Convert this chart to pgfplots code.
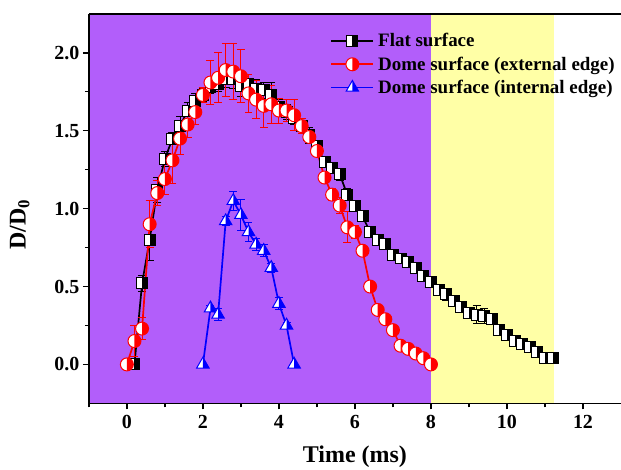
\documentclass[border=0pt]{standalone}
\usepackage{fontspec}
\setmainfont{Liberation Serif}
\usepackage{pgfplots}
\pgfplotsset{compat=1.18}
\usetikzlibrary{calc}

\definecolor{bgpurple}{RGB}{178,94,250}
\definecolor{bgyellow}{RGB}{255,255,166}

% half-filled marks: left half white, right half in the fill colour
\pgfdeclareplotmark{halfsqR}{%
  \begin{pgfscope}\pgfsetfillcolor{white}%
  \pgfpathrectanglecorners{\pgfqpoint{-\pgfplotmarksize}{-\pgfplotmarksize}}{\pgfqpoint{\pgfplotmarksize}{\pgfplotmarksize}}%
  \pgfusepathqfill\end{pgfscope}%
  \pgfpathrectanglecorners{\pgfqpoint{0pt}{-\pgfplotmarksize}}{\pgfqpoint{\pgfplotmarksize}{\pgfplotmarksize}}%
  \pgfusepathqfill
  \pgfpathrectanglecorners{\pgfqpoint{-\pgfplotmarksize}{-\pgfplotmarksize}}{\pgfqpoint{\pgfplotmarksize}{\pgfplotmarksize}}%
  \pgfusepathqstroke}
\pgfdeclareplotmark{halfcircR}{%
  \begin{pgfscope}\pgfsetfillcolor{white}%
  \pgfpathcircle{\pgfpointorigin}{\pgfplotmarksize}\pgfusepathqfill\end{pgfscope}%
  \pgfpathmoveto{\pgfqpoint{0pt}{\pgfplotmarksize}}%
  \pgfpatharc{90}{-90}{\pgfplotmarksize}\pgfpathclose
  \pgfusepathqfill
  \pgfpathcircle{\pgfpointorigin}{\pgfplotmarksize}\pgfusepathqstroke}
\pgfdeclareplotmark{halftriR}{%
  \begin{pgfscope}\pgfsetfillcolor{white}%
  \pgfpathmoveto{\pgfqpointpolar{90}{1.2\pgfplotmarksize}}%
  \pgfpathlineto{\pgfqpointpolar{-30}{1.2\pgfplotmarksize}}%
  \pgfpathlineto{\pgfqpointpolar{-150}{1.2\pgfplotmarksize}}%
  \pgfpathclose\pgfusepathqfill\end{pgfscope}%
  \pgfpathmoveto{\pgfqpointpolar{90}{1.2\pgfplotmarksize}}%
  \pgfpathlineto{\pgfqpointpolar{-30}{1.2\pgfplotmarksize}}%
  \pgfpathlineto{\pgfqpoint{0pt}{-0.6\pgfplotmarksize}}%
  \pgfpathclose\pgfusepathqfill
  \pgfpathmoveto{\pgfqpointpolar{90}{1.2\pgfplotmarksize}}%
  \pgfpathlineto{\pgfqpointpolar{-30}{1.2\pgfplotmarksize}}%
  \pgfpathlineto{\pgfqpointpolar{-150}{1.2\pgfplotmarksize}}%
  \pgfpathclose\pgfusepathqstroke}

\begin{document}
\begin{tikzpicture}
\begin{axis}[name=ax, scale only axis, width=533pt, height=390pt,
    xmin=-1, xmax=13, ymin=-0.25, ymax=2.25,
    axis x line*=box, axis y line*=left,
    axis line style={line width=1.6pt},
    xtick={0,2,...,12}, minor xtick={-1,1,3,5,7,9,11},
    ytick={0,0.5,1,1.5,2}, minor ytick={0.25,0.75,1.25,1.75},
    tick align=outside, tick pos=left,
    major tick length=6pt, minor tick length=4pt,
    every tick/.style={line width=1.3pt, black},
    /pgf/number format/assume math mode=true,
    ticklabel style={font=\fontsize{20}{22}\selectfont\bfseries},
    xticklabel style={yshift=-2pt},
    yticklabel style={/pgf/number format/fixed, /pgf/number format/fixed zerofill, /pgf/number format/precision=1},
    xlabel={Time (ms)}, ylabel={D/D\textsubscript{0}},
    label style={font=\fontsize{24}{26}\selectfont\bfseries},
    xlabel style={yshift=-11pt},
    ylabel style={yshift=18pt, xshift=-16pt},
    axis on top,
    legend cell align=left,
    legend style={at={(0.452,0.958)}, anchor=north west, draw=none, fill=none,
      font=\fontsize{19}{21}\selectfont\bfseries, row sep=4.5pt, inner sep=1pt,
      nodes={inner xsep=4pt}},
    legend image code/.code={\draw[mark repeat=2, mark phase=2, #1] plot coordinates {(0pt,0pt) (21pt,0pt) (42pt,0pt)};},
    error bars/y dir=both, error bars/y explicit,
    error bars/error bar style={line width=0.9pt},
    error bars/error mark options={rotate=90, mark size=4pt, line width=0.9pt}]

\addplot[draw=none, fill=bgpurple, forget plot] coordinates {(-1,-0.25) (8,-0.25) (8,2.25) (-1,2.25)} -- cycle;
\addplot[draw=none, fill=bgyellow, forget plot] coordinates {(8,-0.25) (11.25,-0.25) (11.25,2.25) (8,2.25)} -- cycle;

% Flat surface
\addplot[black, line width=1.7pt, mark=halfsqR, mark size=5.5pt, mark options={line width=1pt, fill=black}] coordinates {
(0.2,0) +- (0,0)
(0.4,0.52) +- (0,0.05)
(0.6,0.80) +- (0,0.13)
(0.8,1.12) +- (0,0.08)
(1.0,1.32) +- (0,0.05)
(1.2,1.45) +- (0,0.04)
(1.4,1.53) +- (0,0.06)
(1.6,1.63) +- (0,0.05)
(1.8,1.69) +- (0,0.05)
(2.0,1.73) +- (0,0.04)
(2.2,1.78) +- (0,0.04)
(2.4,1.80) +- (0,0.05)
(2.6,1.83) +- (0,0.05)
(2.8,1.83) +- (0,0.06)
(3.0,1.79) +- (0,0.07)
(3.2,1.80) +- (0,0.06)
(3.4,1.77) +- (0,0.06)
(3.6,1.76) +- (0,0.05)
(3.8,1.73) +- (0,0.08)
(4.0,1.65) +- (0,0.05)
(4.2,1.62) +- (0,0.05)
(4.4,1.58) +- (0,0.04)
(4.6,1.53) +- (0,0.05)
(4.8,1.47) +- (0,0.05)
(5.0,1.40) +- (0,0.03)
(5.2,1.30) +- (0,0.03)
(5.4,1.26) +- (0,0.03)
(5.6,1.22) +- (0,0.04)
(5.8,1.09) +- (0,0.04)
(6.0,1.02) +- (0,0.02)
(6.2,0.95) +- (0,0.02)
(6.4,0.85) +- (0,0.02)
(6.6,0.80) +- (0,0.02)
(6.8,0.77) +- (0,0.02)
(7.0,0.70) +- (0,0.02)
(7.2,0.68) +- (0,0.02)
(7.4,0.655) +- (0,0.02)
(7.6,0.62) +- (0,0.02)
(7.8,0.57) +- (0,0.02)
(8.0,0.53) +- (0,0.02)
(8.2,0.48) +- (0,0.03)
(8.4,0.45) +- (0,0.04)
(8.6,0.41) +- (0,0.03)
(8.8,0.37) +- (0,0.03)
(9.0,0.33) +- (0,0.03)
(9.2,0.32) +- (0,0.06)
(9.4,0.31) +- (0,0.05)
(9.6,0.29) +- (0,0.02)
(9.8,0.22) +- (0,0.02)
(10.0,0.19) +- (0,0.02)
(10.2,0.15) +- (0,0.02)
(10.4,0.13) +- (0,0.02)
(10.6,0.11) +- (0,0.02)
(10.8,0.08) +- (0,0.02)
(11.0,0.04) +- (0,0.02)
(11.2,0.04) +- (0,0.02)
};
\addlegendentry{Flat surface}

% Dome surface (external edge)
\addplot[red, line width=1.7pt, mark=halfcircR, mark size=6.5pt, mark options={line width=1pt, fill=red}] coordinates {
(0.0,0) +- (0,0)
(0.2,0.15) +- (0,0.10)
(0.4,0.23) +- (0,0.07)
(0.6,0.90) +- (0,0.15)
(0.8,1.10) +- (0,0.08)
(1.0,1.19) +- (0,0.10)
(1.2,1.31) +- (0,0.15)
(1.4,1.45) +- (0,0.10)
(1.6,1.54) +- (0,0.08)
(1.8,1.62) +- (0,0.08)
(2.0,1.73) +- (0,0.05)
(2.2,1.81) +- (0,0.14)
(2.4,1.84) +- (0,0.16)
(2.6,1.89) +- (0,0.17)
(2.8,1.88) +- (0,0.18)
(3.0,1.85) +- (0,0.17)
(3.2,1.74) +- (0,0.12)
(3.4,1.70) +- (0,0.12)
(3.6,1.66) +- (0,0.14)
(3.8,1.67) +- (0,0.12)
(4.0,1.63) +- (0,0.08)
(4.2,1.63) +- (0,0.07)
(4.4,1.60) +- (0,0.10)
(4.6,1.53) +- (0,0.05)
(4.8,1.46) +- (0,0.03)
(5.0,1.37) +- (0,0.03)
(5.2,1.20) +- (0,0.03)
(5.4,1.09) +- (0,0.04)
(5.6,1.02) +- (0,0.05)
(5.8,0.88) +- (0,0.10)
(6.0,0.85) +- (0,0.04)
(6.2,0.73) +- (0,0)
(6.4,0.50) +- (0,0)
(6.6,0.35) +- (0,0)
(6.8,0.29) +- (0,0)
(7.0,0.22) +- (0,0)
(7.2,0.12) +- (0,0)
(7.4,0.10) +- (0,0)
(7.6,0.07) +- (0,0)
(7.8,0.04) +- (0,0)
(8.0,0.00) +- (0,0)
};
\addlegendentry{Dome surface (external edge)}

% Dome surface (internal edge)
\addplot[blue, line width=1.7pt, mark=halftriR, mark size=6pt, mark options={line width=1pt, fill=blue}] coordinates {
(2.0,0) +- (0,0)
(2.2,0.36) +- (0,0.02)
(2.4,0.32) +- (0,0.04)
(2.6,0.92) +- (0,0.03)
(2.8,1.05) +- (0,0.06)
(3.0,0.96) +- (0,0.10)
(3.2,0.85) +- (0,0.06)
(3.4,0.77) +- (0,0.04)
(3.6,0.73) +- (0,0.04)
(3.8,0.62) +- (0,0.03)
(4.0,0.39) +- (0,0.04)
(4.2,0.25) +- (0,0.02)
(4.4,0) +- (0,0)
};
\addlegendentry{Dome surface (internal edge)}
\end{axis}
\pgfresetboundingbox
\path ($(ax.south west)+(-89pt,-66pt)$) rectangle ($(ax.north east)+(0pt,14pt)$);
\end{tikzpicture}
\end{document}
